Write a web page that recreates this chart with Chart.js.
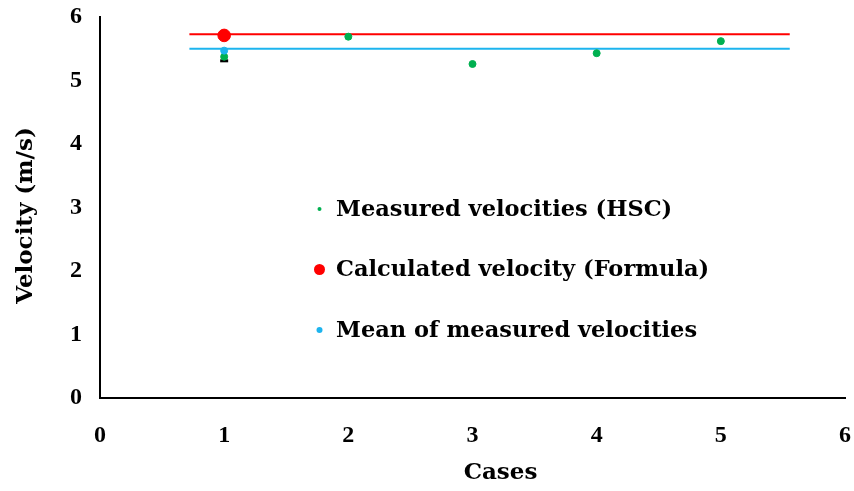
<!DOCTYPE html>
<html>
<head>
<meta charset="utf-8">
<script src="https://cdn.jsdelivr.net/npm/chart.js@4"></script>
<style>
  html, body { margin: 0; padding: 0; background: #fff; }
  #wrap { width: 854px; height: 491px; }
</style>
</head>
<body>
<div id="wrap"><canvas id="velChart" width="854" height="491"></canvas></div>
<script>
// data
const cases = [1, 2, 3, 4, 5];
const measured = [5.375, 5.69, 5.26, 5.43, 5.62];
const calculated = 5.71;
const meanMeasured = 5.47;
const calcLineY = 5.73;
const meanLineY = 5.50;
const lineStartX = 0.72;
const lineEndX = 5.555;
const errorLow = 5.31;
const tickValues = [0, 1, 2, 3, 4, 5, 6];

const FONT = "'DejaVu Serif', serif";
const TICK_FONT = "'Liberation Serif', serif";
const GREEN = '#00B050';
const RED = '#FF0000';
const BLUE = '#1DB4EE';

const legendItems = [
    { text: 'Measured velocities (HSC)', color: GREEN, r: 2 },
    { text: 'Calculated velocity (Formula)', color: RED, r: 5.5 },
    { text: 'Mean of measured velocities', color: BLUE, r: 3 }
];

// legend sits inside the plot area
const insideLegend = {
    id: 'insideLegend',
    afterDraw(chart) {
        const ctx = chart.ctx;
        ctx.save();
        ctx.font = 'bold 22.5px ' + FONT;
        ctx.textBaseline = 'middle';
        legendItems.forEach(function (item, i) {
            const y = 209 + i * 60.5;
            ctx.beginPath();
            ctx.fillStyle = item.color;
            ctx.arc(319.5, y, item.r, 0, Math.PI * 2);
            ctx.fill();
            ctx.fillStyle = '#000';
            ctx.fillText(item.text, 336, y + 1);
        });
        ctx.restore();
    }
};

const ctx = document.getElementById('velChart').getContext('2d');
new Chart(ctx, {
    type: 'scatter',
    data: {
        datasets: [
            {
                label: 'Calculated velocity (Formula)',
                data: [{ x: 1, y: calculated }],
                backgroundColor: RED,
                borderColor: RED,
                pointRadius: 6.3,
                order: 0
            },
            {
                label: 'Mean of measured velocities',
                data: [{ x: 1, y: meanMeasured }],
                backgroundColor: BLUE,
                borderColor: BLUE,
                pointRadius: 3.5,
                order: 1
            },
            {
                label: 'Measured velocities (HSC)',
                data: cases.map((c, i) => ({ x: c, y: measured[i] })),
                backgroundColor: GREEN,
                borderColor: GREEN,
                pointRadius: 3.5,
                order: 2
            },
            {
                label: 'error',
                data: [{ x: 1, y: meanMeasured }, { x: 1, y: errorLow }],
                showLine: true,
                borderColor: '#000',
                borderWidth: 1.5,
                pointStyle: 'line',
                pointRadius: [0, 4],
                pointBorderWidth: 3,
                pointBorderColor: '#000',
                order: 3
            },
            {
                label: 'calc line',
                data: [{ x: lineStartX, y: calcLineY }, { x: lineEndX, y: calcLineY }],
                showLine: true,
                borderColor: RED,
                borderWidth: 2,
                pointRadius: 0,
                order: 4
            },
            {
                label: 'mean line',
                data: [{ x: lineStartX, y: meanLineY }, { x: lineEndX, y: meanLineY }],
                showLine: true,
                borderColor: BLUE,
                borderWidth: 2,
                pointRadius: 0,
                order: 5
            }
        ]
    },
    options: {
        responsive: false,
        animation: false,
        layout: { padding: { left: 0, top: 17, right: 9, bottom: 0 } },
        plugins: {
            legend: { display: false },
            tooltip: { enabled: false }
        },
        scales: {
            x: {
                type: 'linear',
                min: 0,
                max: 6,
                afterBuildTicks: s => { s.ticks = tickValues.map(v => ({ value: v })); },
                afterFit: s => { s.height = 93; s.paddingLeft = 0; s.paddingRight = 0; },
                grid: { display: false, drawTicks: false },
                border: { display: true, color: '#000', width: 2 },
                ticks: {
                    color: '#000',
                    padding: 23,
                    font: { family: TICK_FONT, size: 24, weight: 'bold' }
                },
                title: {
                    display: true,
                    // title sits a little right of centre in the original
                    text: '       Cases',
                    color: '#000',
                    padding: { top: 10 },
                    font: { family: FONT, size: 23, weight: 'bold' }
                }
            },
            y: {
                min: 0,
                max: 6,
                afterBuildTicks: s => { s.ticks = tickValues.map(v => ({ value: v })); },
                afterFit: s => { s.width = 100; s.paddingTop = 0; s.paddingBottom = 0; },
                grid: { display: false, drawTicks: false },
                border: { display: true, color: '#000', width: 2 },
                ticks: {
                    color: '#000',
                    padding: 18,
                    font: { family: TICK_FONT, size: 24, weight: 'bold' }
                },
                title: {
                    display: true,
                    text: 'Velocity (m/s)  ',
                    color: '#000',
                    padding: { top: 12, bottom: 0 },
                    font: { family: FONT, size: 23, weight: 'bold' }
                }
            }
        }
    },
    plugins: [insideLegend]
});
</script>
</body>
</html>
